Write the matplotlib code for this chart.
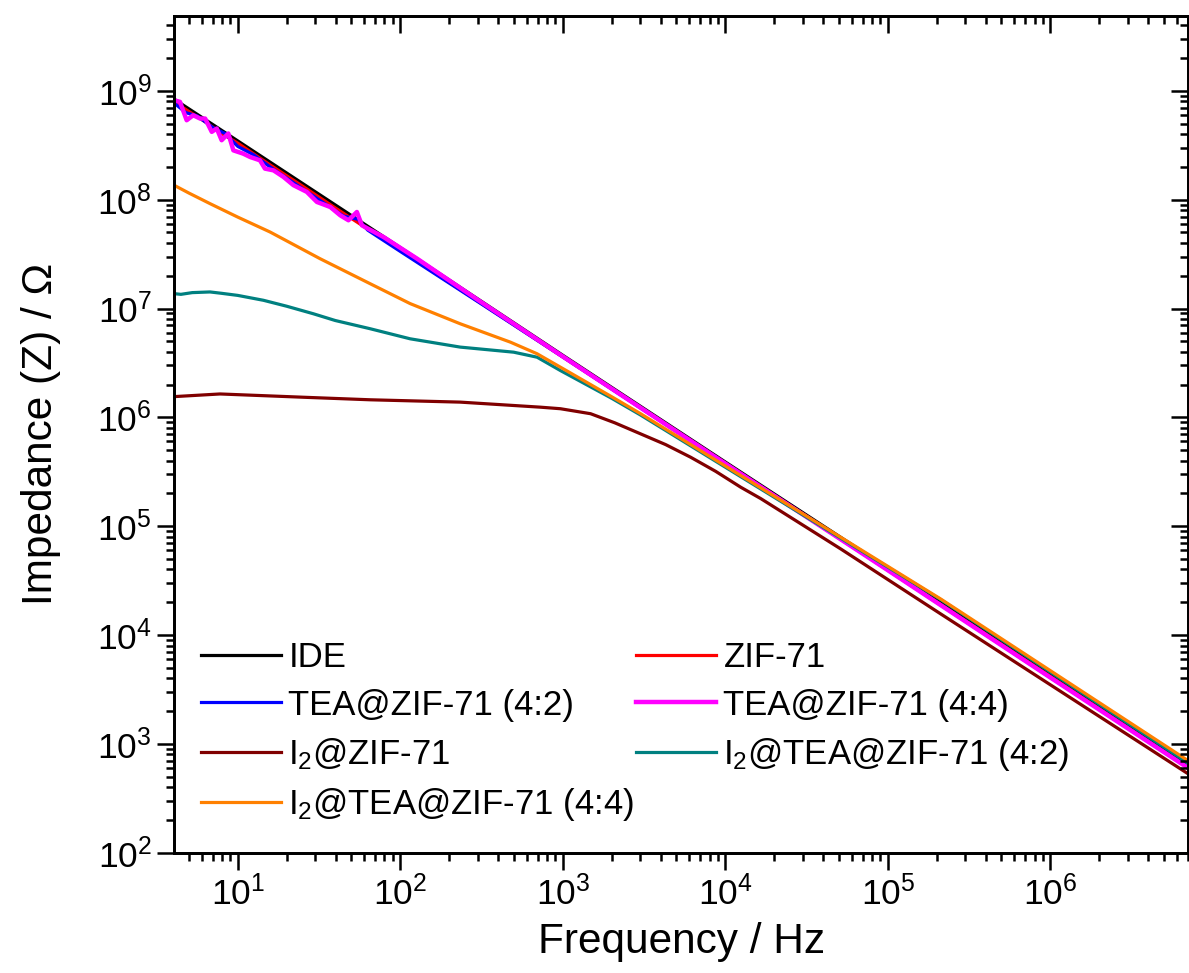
import matplotlib
matplotlib.use("Agg")
import matplotlib.pyplot as plt
from matplotlib.ticker import FixedLocator, LogLocator, NullFormatter

plt.rcParams['font.family'] = ['Liberation Sans', 'DejaVu Sans']
plt.rcParams['mathtext.default'] = 'regular'

# frequency (Hz) / impedance (Ohm)
f_ide = [4.05, 10, 100, 1e3, 1e4, 1e5, 1e6, 7.1e6]
z_ide = [8.41e8, 3.47e8, 3.63e7, 3.72e6, 3.89e5, 4.12e4, 4.37e3, 631]

f_zif = [4.05, 5.01, 6.31, 7.94, 10, 15.8, 25.1, 39.8, 63.1, 100, 316, 1e3, 1e4, 1e5, 1e6, 7.1e6]
z_zif = [7.94e8, 6.46e8, 5.19e8, 4.07e8, 3.31e8, 2.09e8, 1.33e8, 8.41e7, 5.37e7, 3.43e7,
         1.11e7, 3.59e6, 3.80e5, 3.98e4, 4.17e3, 603]

f_tea42 = [4.05, 4.79, 5.62, 7.08, 8.32, 10, 12.6, 15.8, 22.4, 31.6, 44.7, 55, 63.1, 100,
           316, 1e3, 1e4, 1e5, 1e6, 7.1e6]
z_tea42 = [7.76e8, 6.31e8, 5.89e8, 4.57e8, 4.07e8, 3.09e8, 2.57e8, 2.0e8, 1.41e8, 1.0e8,
           7.08e7, 6.6e7, 5.25e7, 3.35e7, 1.10e7, 3.59e6, 3.76e5, 3.94e4, 4.07e3, 603]

f_tea44 = [4.06, 4.41, 4.85, 5.32, 5.86, 6.30, 6.92, 7.43, 7.96, 8.75, 9.40, 10.8, 11.9,
           13.7, 14.7, 16.6, 19.1, 22.0, 26.6, 30.7, 37.1, 42.7, 48.0, 54.1, 58.1, 78.9,
           127, 303, 1e3, 1e4, 1e5, 1e6, 7.08e6]
z_tea44 = [8.20e8, 7.93e8, 5.37e8, 5.97e8, 5.57e8, 5.57e8, 4.20e8, 4.51e8, 3.52e8, 4.06e8,
           2.84e8, 2.65e8, 2.47e8, 2.30e8, 1.93e8, 1.86e8, 1.62e8, 1.36e8, 1.18e8, 9.53e7,
           8.57e7, 7.19e7, 6.47e7, 7.71e7, 5.81e7, 4.54e7, 2.87e7, 1.19e7, 3.63e6, 3.76e5,
           3.94e4, 4.07e3, 597]

f_i2 = [4.05, 7.78, 25.4, 65.3, 234, 729, 968, 1483, 2089, 3013, 4295, 6124, 8730, 12450,
        16560, 51600, 2.12e5, 7.08e6]
z_i2 = [1.55e6, 1.64e6, 1.53e6, 1.45e6, 1.38e6, 1.24e6, 1.20e6, 1.08e6, 8.91e5, 7.05e5,
        5.62e5, 4.30e5, 3.19e5, 2.28e5, 1.79e5, 6.15e4, 1.56e4, 528]

f_i2tea42 = [4.05, 4.47, 5.25, 6.75, 7.94, 10, 14.4, 20.0, 29.2, 39.8, 65.3, 115, 234,
             499, 695, 968, 1995, 3013, 12450, 2.12e5, 7.08e6]
z_i2tea42 = [1.37e7, 1.35e7, 1.40e7, 1.42e7, 1.38e7, 1.32e7, 1.19e7, 1.05e7, 8.95e6,
             7.76e6, 6.52e6, 5.27e6, 4.42e6, 3.97e6, 3.57e6, 2.69e6, 1.50e6, 1.05e6,
             2.85e5, 2.11e4, 661]

f_i2tea44 = [4.05, 5.01, 6.75, 10, 15.8, 32.1, 65.3, 115, 234, 476, 695, 968, 1995, 3013,
             12450, 2.12e5, 7.08e6]
z_i2tea44 = [1.36e8, 1.15e8, 9.20e7, 6.92e7, 5.05e7, 2.87e7, 1.69e7, 1.11e7, 7.24e6,
             4.91e6, 3.84e6, 2.89e6, 1.55e6, 1.08e6, 2.92e5, 2.14e4, 697]

x_major = [1e1, 1e2, 1e3, 1e4, 1e5, 1e6]
y_major = [1e2, 1e3, 1e4, 1e5, 1e6, 1e7, 1e8, 1e9]

fig = plt.figure(figsize=(11.89, 9.73), dpi=100)
ax = fig.add_axes([0.1463, 0.1237, 0.8532, 0.8601])

lw = 2.3
l1, = ax.plot(f_ide, z_ide, color='black', lw=lw, label='IDE')
l2, = ax.plot(f_zif, z_zif, color='red', lw=lw, label='ZIF-71')
l3, = ax.plot(f_tea42, z_tea42, color='blue', lw=lw, label='TEA@ZIF-71 (4:2)')
l4, = ax.plot(f_tea44, z_tea44, color='#ff00ff', lw=3.2, label='TEA@ZIF-71 (4:4)')
l5, = ax.plot(f_i2, z_i2, color='#800000', lw=lw, label='I$_2$@ZIF-71')
l6, = ax.plot(f_i2tea42, z_i2tea42, color='#008080', lw=lw, label='I$_2$@TEA@ZIF-71 (4:2)')
l7, = ax.plot(f_i2tea44, z_i2tea44, color='#ff8000', lw=lw, label='I$_2$@TEA@ZIF-71 (4:4)')

ax.set_xscale('log')
ax.set_yscale('log')
ax.set_xlim(4.05, 7.08e6)
ax.set_ylim(1e2, 4.9e9)
ax.xaxis.set_major_locator(FixedLocator(x_major))
ax.yaxis.set_major_locator(FixedLocator(y_major))

for s in ax.spines.values():
    s.set_linewidth(2)
ax.tick_params(which='major', direction='out', length=12, width=1.8, labelsize=25.5, pad=4)
ax.tick_params(which='minor', direction='out', length=6, width=1.8)

# mirror ticks on top / right pointing inwards
ax2 = fig.add_axes(ax.get_position(), sharex=ax, sharey=ax)
ax2.patch.set_visible(False)
for s in ax2.spines.values():
    s.set_linewidth(2)
ax2.tick_params(which='both', direction='in', width=1.8, bottom=False, left=False,
                top=True, right=True, labelbottom=False, labelleft=False)
ax2.tick_params(which='major', length=12)
ax2.tick_params(which='minor', length=6)

ax.set_xlabel('Frequency / Hz', fontsize=30.5, labelpad=8)
ax.set_ylabel('Impedance (Z) / Ω', fontsize=30.5, labelpad=26)

W, H = 1189, 973
leg_kw = dict(frameon=False, fontsize=25, loc='upper left', handlelength=2.3,
              handletextpad=0.22, labelspacing=0.42, borderpad=0, borderaxespad=0,
              bbox_transform=fig.transFigure)
leg1 = ax2.legend(handles=[l1, l3, l5, l7], bbox_to_anchor=(201 / W, 1 - 641 / H), **leg_kw)
ax2.add_artist(leg1)
ax2.legend(handles=[l2, l4, l6], bbox_to_anchor=(636 / W, 1 - 641 / H), **leg_kw)

fig.savefig('out.png', dpi=100)
